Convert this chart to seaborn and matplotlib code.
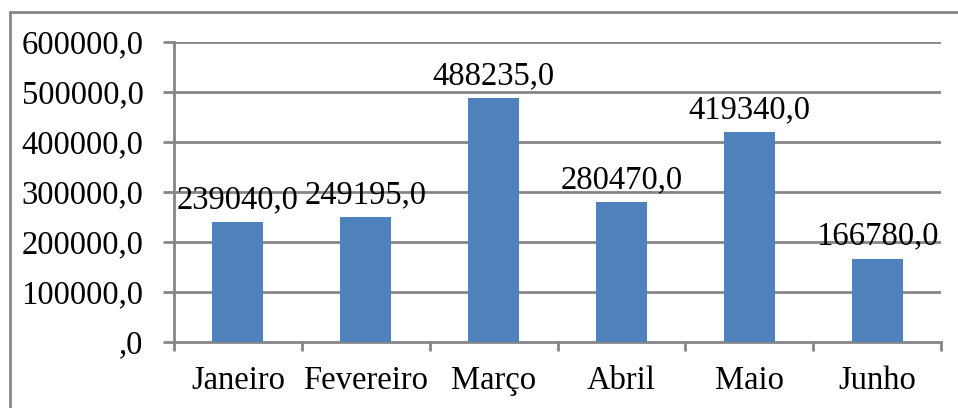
import matplotlib
matplotlib.use("Agg")
import matplotlib.pyplot as plt
from matplotlib.lines import Line2D
import seaborn as sns
import pandas as pd

meses = ["Janeiro", "Fevereiro", "Março", "Abril", "Maio", "Junho"]
valores = [239040.0, 249195.0, 488235.0, 280470.0, 419340.0, 166780.0]
y_ticks = [0, 100000, 200000, 300000, 400000, 500000, 600000]

def fmt(v):
    s = f"{v:.1f}".replace(".", ",")
    return s[1:] if s.startswith("0,") else s

sns.set_theme(style="white")
plt.rcParams["font.family"] = ["Liberation Serif", "DejaVu Serif"]

df = pd.DataFrame({"mes": meses, "valor": valores})

FS = 23.5
W, H = 958, 408
fig = plt.figure(figsize=(W / 100, H / 100), dpi=100)
L, R, T, B = 174, 941, 42, 342
ax = fig.add_axes([L / W, 1 - B / H, (R - L) / W, (B - T) / H])

sns.barplot(data=df, x="mes", y="valor", color="#4F81BD", width=0.4,
            saturation=1, linewidth=0, ax=ax, zorder=3)

grid_c = "#868686"
ax.set_ylim(0, 600000)
ax.set_xlim(-0.5, len(meses) - 0.5)
ax.set_yticks(y_ticks)
ax.set_yticklabels([fmt(v) for v in y_ticks], fontsize=FS, color="black")
ax.set_xticks(range(len(meses)))
ax.set_xticklabels(meses, fontsize=FS, color="black")
ax.set_xlabel("")
ax.set_ylabel("")
for v in y_ticks[1:]:
    ax.axhline(v, color=grid_c, lw=2, zorder=1)
for s in ["top", "right"]:
    ax.spines[s].set_visible(False)
for s in ["left", "bottom"]:
    ax.spines[s].set_color(grid_c)
    ax.spines[s].set_linewidth(2)
ax.tick_params(axis="y", length=8, width=2, color=grid_c, pad=14, left=True)
ax.tick_params(axis="x", length=0, pad=17)
# category boundary ticks on the x axis
for b in [i - 0.5 for i in range(len(meses) + 1)]:
    ax.plot([b, b], [0, -0.027], transform=ax.get_xaxis_transform(),
            color=grid_c, lw=2, clip_on=False, zorder=4)

for i, v in enumerate(valores):
    ax.annotate(fmt(v), (i, v), xytext=(0, 5), textcoords="offset points",
                ha="center", va="bottom", fontsize=FS, color="black", zorder=5)

# chart frame
fig.add_artist(Line2D([10 / W, 10 / W], [0, 1 - 12 / H], transform=fig.transFigure,
                      color=grid_c, lw=2))
fig.add_artist(Line2D([10 / W, 1], [1 - 12 / H, 1 - 12 / H], transform=fig.transFigure,
                      color=grid_c, lw=2))

fig.savefig("out.png", dpi=100)
